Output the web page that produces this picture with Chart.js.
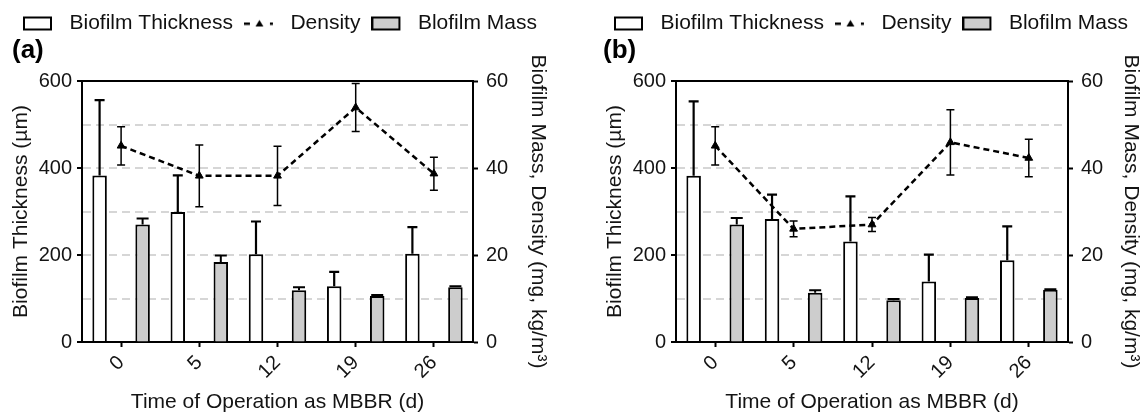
<!DOCTYPE html>
<html>
<head>
<meta charset="utf-8">
<script src="https://cdn.jsdelivr.net/npm/chart.js@4.4.1/dist/chart.umd.min.js"></script>
<style>
html, body { margin: 0; padding: 0; background: #ffffff; }
#wrap { position: relative; width: 1146px; height: 418px; overflow: hidden; background: #ffffff; }
.panel { position: absolute; top: 0; width: 551px; height: 418px; }
#pa { left: 0; }
#pb { left: 595px; }
canvas { display: block; }
</style>
</head>
<body>
<div id="wrap">
  <div class="panel" id="pa"><canvas id="ca" width="551" height="418"></canvas></div>
  <div class="panel" id="pb"><canvas id="cb" width="551" height="418"></canvas></div>
</div>
<script>
// ---------------- data ----------------
const categories = ['0', '5', '12', '19', '26'];
const seriesLabels = ['Biofilm Thickness', 'Density', 'Blofilm Mass'];
const panelLabels = ['(a)', '(b)'];
const xTitle = 'Time of Operation as MBBR (d)';
const leftTitle = 'Biofilm Thickness (\u00b5m)';
const rightTitle = 'Biofilm Mass, Density (mg, kg/m\u00b3)';
const leftTickLabels = [0, 200, 400, 600];
const rightTickLabels = [0, 20, 40, 60];
const gridValues = [100, 200, 300, 400, 500];

const thicknessA = [383, 299, 202, 128, 203];
const thicknessErrA = [173, 84, 75, 33, 61];
const densityA = [45.1, 38.2, 38.2, 53.9, 38.7];
const densityErrA = [4.4, 7.1, 6.8, 5.5, 3.8];
const massA = [27.0, 18.4, 11.9, 10.6, 12.6];
const massErrA = [1.4, 1.5, 0.7, 0.2, 0.2];

const thicknessB = [382, 283, 231, 139, 188];
const thicknessErrB = [171, 56, 104, 62, 78];
const densityB = [45.1, 26.0, 27.0, 45.9, 42.3];
const densityErrB = [4.4, 1.8, 1.6, 7.5, 4.3];
const massB = [27.0, 11.3, 9.6, 10.1, 12.0];
const massErrB = [1.5, 0.6, 0.3, 0.2, 0.1];

// ---------------- styling ----------------
Chart.defaults.font.family = "'Liberation Sans', Arial, Helvetica, sans-serif";
Chart.defaults.color = '#141414';
Chart.defaults.animation = false;

const GRAY = '#cdcdcd';
const INK = '#000000';

function iconBox(fill) {
  const c = document.createElement('canvas');
  c.width = 36; c.height = 16;
  const g = c.getContext('2d');
  g.fillStyle = fill;
  g.fillRect(1, 2, 27, 12);
  g.strokeStyle = INK; g.lineWidth = 2;
  g.strokeRect(1, 2, 27, 12);
  return c;
}
function iconDensity() {
  const c = document.createElement('canvas');
  c.width = 36; c.height = 16;
  const g = c.getContext('2d');
  g.fillStyle = INK;
  g.fillRect(0, 7, 6, 2.5);
  g.beginPath();
  g.moveTo(11.5, 11); g.lineTo(19.5, 11); g.lineTo(15.5, 4.5); g.closePath();
  g.fill();
  g.fillRect(26, 7, 3, 2.5);
  return c;
}

const errorBarPlugin = {
  id: 'errorBars',
  afterDatasetsDraw(chart) {
    const ctx = chart.ctx;
    chart.data.datasets.forEach((ds, i) => {
      if (!ds.errors) return;
      const meta = chart.getDatasetMeta(i);
      const ys = chart.scales[meta.yAxisID];
      const st = ds.errStyle;
      ctx.save();
      ctx.strokeStyle = INK;
      ctx.lineWidth = st.w;
      ctx.setLineDash([]);
      meta.data.forEach((el, j) => {
        const v = ds.data[j], e = ds.errors[j];
        const x = el.x;
        const yHi = ys.getPixelForValue(v + e);
        const yLo = st.both ? ys.getPixelForValue(v - e) : ys.getPixelForValue(v);
        ctx.beginPath();
        ctx.moveTo(x, yLo); ctx.lineTo(x, yHi);
        ctx.moveTo(x - st.cap / 2, yHi); ctx.lineTo(x + st.cap / 2, yHi);
        if (st.both) { ctx.moveTo(x - st.cap / 2, yLo); ctx.lineTo(x + st.cap / 2, yLo); }
        ctx.stroke();
      });
      ctx.restore();
    });
  }
};

const W = 551, H = 418, TOP = 81, BOTTOM = 342, RIGHT = 473;

function makeChart(id, label, thick, thickErr, dens, densErr, mass, massErr, geo) {
  const icons = [iconBox('#ffffff'), iconDensity(), iconBox(GRAY)];
  return new Chart(document.getElementById(id), {
    type: 'bar',
    data: {
      labels: categories,
      datasets: [
        {
          type: 'bar', label: seriesLabels[0], data: thick, errors: thickErr,
          errStyle: { w: 2.2, cap: 10, both: false },
          backgroundColor: '#ffffff', borderColor: INK, borderWidth: 2,
          xAxisID: 'x', yAxisID: 'y', categoryPercentage: 1.1, barPercentage: 0.337
        },
        {
          type: 'line', label: seriesLabels[1], data: dens, errors: densErr,
          errStyle: { w: 1.5, cap: 8, both: true },
          xAxisID: 'x', yAxisID: 'y2', order: -1,
          borderColor: INK, borderWidth: 2.5, borderDash: [6, 4], tension: 0,
          pointStyle: 'triangle', pointRadius: 4.5,
          pointBackgroundColor: INK, pointBorderColor: INK, pointBorderWidth: 1,
          fill: false
        },
        {
          type: 'bar', label: seriesLabels[2], data: mass, errors: massErr,
          errStyle: { w: 2, cap: 12, both: false },
          backgroundColor: GRAY, borderColor: INK, borderWidth: 2,
          xAxisID: 'x', yAxisID: 'y2', categoryPercentage: 1.1, barPercentage: 0.337
        }
      ]
    },
    options: {
      responsive: false,
      devicePixelRatio: 1,
      animation: false,
      layout: { padding: { left: geo.padL, right: 0, top: 2, bottom: 0 } },
      plugins: {
        tooltip: { enabled: false },
        legend: {
          display: true, position: 'top', align: 'start',
          labels: {
            usePointStyle: true, pointStyleWidth: 36, padding: 11,
            font: { size: 21 }, color: '#111111',
            generateLabels: (chart) => chart.data.datasets.map((ds, i) => ({
              text: ds.label, pointStyle: icons[i], datasetIndex: i, hidden: false,
              fillStyle: INK, strokeStyle: INK, lineWidth: 0, fontColor: '#111111'
            }))
          }
        },
        title: {
          display: true, text: label, align: 'start', weight: 500,
          font: { size: 26, weight: 'bold', lineHeight: 1 },
          padding: { top: -6, bottom: 0 }, color: '#000000'
        }
      },
      scales: {
        x: {
          type: 'category', position: 'bottom', offset: true,
          grid: { offset: false, drawOnChartArea: false, drawTicks: true, tickLength: 5, tickWidth: 2, tickColor: INK },
          border: { display: true, color: INK, width: 2 },
          ticks: { minRotation: 45, maxRotation: 45, padding: 4, font: { size: 20 }, color: '#141414' },
          title: { display: true, text: xTitle, font: { size: 21, lineHeight: 1 }, padding: { top: 0, bottom: 5 }, color: '#141414' },
          afterFit: (s) => { s.height = H - BOTTOM; }
        },
        xTop: {
          type: 'category', position: 'top', offset: true,
          grid: { display: false, drawTicks: false },
          border: { display: true, color: INK, width: 2 },
          ticks: { display: false },
          afterFit: (s) => { s.height = 17; }
        },
        y: {
          type: 'linear', position: 'left', min: 0, max: 600,
          ticks: {
            stepSize: 100, padding: 5, font: { size: 20 }, color: '#141414',
            callback: (v) => leftTickLabels.includes(v) ? String(v) : ''
          },
          grid: {
            drawOnChartArea: true, drawTicks: true, tickLength: 5, tickWidth: 2,
            lineWidth: 2,
            color: (c) => gridValues.includes(c.tick && c.tick.value) ? '#d6d6d6' : 'rgba(0,0,0,0)',
            tickColor: (c) => leftTickLabels.includes(c.tick && c.tick.value) ? INK : 'rgba(0,0,0,0)'
          },
          border: { display: true, color: INK, width: 2, dash: [8, 5] },
          title: { display: true, text: leftTitle, font: { size: 21, lineHeight: 1 }, padding: { top: geo.leftTitlePad, bottom: 0 }, color: '#141414' },
          afterFit: (s) => { s.width = geo.chartLeft - geo.padL; }
        },
        y2: {
          type: 'linear', position: 'right', min: 0, max: 60,
          ticks: {
            stepSize: 20, padding: 8, font: { size: 20 }, color: '#141414',
            callback: (v) => rightTickLabels.includes(v) ? String(v) : ''
          },
          grid: { drawOnChartArea: false, drawTicks: true, tickLength: 5, tickWidth: 2, tickColor: INK },
          border: { display: true, color: INK, width: 2 },
          title: { display: true, text: rightTitle, font: { size: 21, lineHeight: 1 }, padding: { top: geo.rightTitlePad, bottom: 0 }, color: '#141414' },
          afterFit: (s) => { s.width = W - RIGHT; }
        }
      }
    },
    plugins: [errorBarPlugin]
  });
}

makeChart('ca', panelLabels[0], thicknessA, thicknessErrA, densityA, densityErrA, massA, massErrA,
  { padL: 12, chartLeft: 82, leftTitlePad: -1, rightTitlePad: 3 });
makeChart('cb', panelLabels[1], thicknessB, thicknessErrB, densityB, densityErrB, massB, massErrB,
  { padL: 8, chartLeft: 81, leftTitlePad: 2, rightTitlePad: 5 });
</script>
</body>
</html>
